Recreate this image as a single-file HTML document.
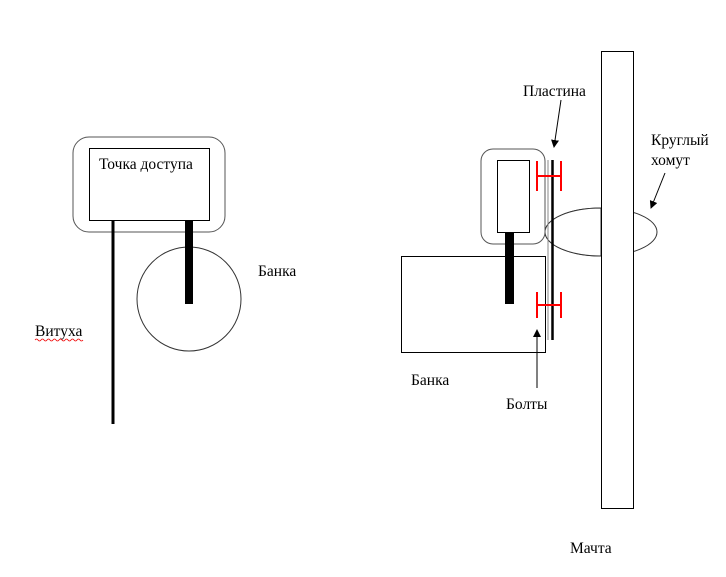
<!DOCTYPE html>
<html><head><meta charset="utf-8"><style>
html,body{margin:0;padding:0;background:#fff;width:726px;height:577px;overflow:hidden}
svg{display:block}
text{font-family:"Liberation Serif",serif;font-size:15.5px;fill:#000}
</style></head><body>
<svg width="726" height="577" viewBox="0 0 726 577" xmlns="http://www.w3.org/2000/svg">
<defs><marker id="a" markerWidth="8" markerHeight="8" refX="7" refY="4" orient="auto" markerUnits="userSpaceOnUse"><path d="M0,0 L8,4 L0,8 z" fill="#000"/></marker></defs>
<!-- left -->
<rect x="73" y="137" width="152" height="95" rx="16" fill="#fff" stroke="#555" stroke-width="1"/>
<rect x="89.5" y="148.5" width="120" height="72" fill="#fff" stroke="#000"/>
<text x="99" y="169">Точка доступа</text>
<line x1="113" y1="220" x2="113" y2="424" stroke="#000" stroke-width="3"/>
<circle cx="189" cy="299" r="52" fill="#fff" stroke="#333"/>
<rect x="185" y="220" width="8" height="84" fill="#000"/>
<text x="258" y="276">Банка</text>
<text x="35" y="336">Витуха</text>
<path d="M35,340 q1.5,-2 3,0 t3,0 t3,0 t3,0 t3,0 t3,0 t3,0 t3,0 t3,0 t3,0 t3,0 t3,0 t3,0 t3,0 t3,0 t3,0" fill="none" stroke="#e00" stroke-width="0.8"/>
<!-- right -->
<rect x="601.5" y="51.5" width="32" height="457" fill="#fff" stroke="#000"/>
<ellipse cx="601" cy="232" rx="56" ry="24" fill="none" stroke="#333"/>
<path d="M545,232 A56,24 0 0 1 601,208 L601,256 A56,24 0 0 1 545,232 z" fill="#fff" stroke="#333"/>
<rect x="602" y="206" width="31" height="52" fill="#fff"/>
<line x1="601.5" y1="200" x2="601.5" y2="262" stroke="#000"/>
<line x1="633.5" y1="200" x2="633.5" y2="262" stroke="#000"/>
<rect x="401.5" y="256.5" width="144" height="96" fill="#fff" stroke="#000"/>
<rect x="481" y="149" width="64" height="95" rx="12" fill="#fff" stroke="#555"/>
<rect x="497.5" y="160.5" width="32" height="72" fill="#fff" stroke="#000"/>
<rect x="505" y="232" width="9" height="72" fill="#000"/>
<line x1="548" y1="160" x2="548" y2="340" stroke="#888" stroke-width="1"/>
<line x1="552.5" y1="160" x2="552.5" y2="340" stroke="#000" stroke-width="2.5"/>
<g stroke="#f00" stroke-width="2" fill="none">
<line x1="537" y1="176" x2="561" y2="176"/><line x1="537" y1="161" x2="537" y2="191"/><line x1="561" y1="161" x2="561" y2="191"/>
<line x1="537" y1="305" x2="561" y2="305"/><line x1="537" y1="292" x2="537" y2="318"/><line x1="561" y1="292" x2="561" y2="318"/>
</g>
<line x1="561" y1="100" x2="554" y2="147" stroke="#000" marker-end="url(#a)"/>
<line x1="665" y1="173" x2="651" y2="208" stroke="#000" marker-end="url(#a)"/>
<line x1="537" y1="388" x2="537" y2="330" stroke="#000" marker-end="url(#a)"/>
<text x="523" y="96">Пластина</text>
<text x="651" y="145">Круглый</text>
<text x="651" y="165">хомут</text>
<text x="411" y="385">Банка</text>
<text x="506" y="409">Болты</text>
<text x="570" y="553">Мачта</text>
</svg>
</body></html>
